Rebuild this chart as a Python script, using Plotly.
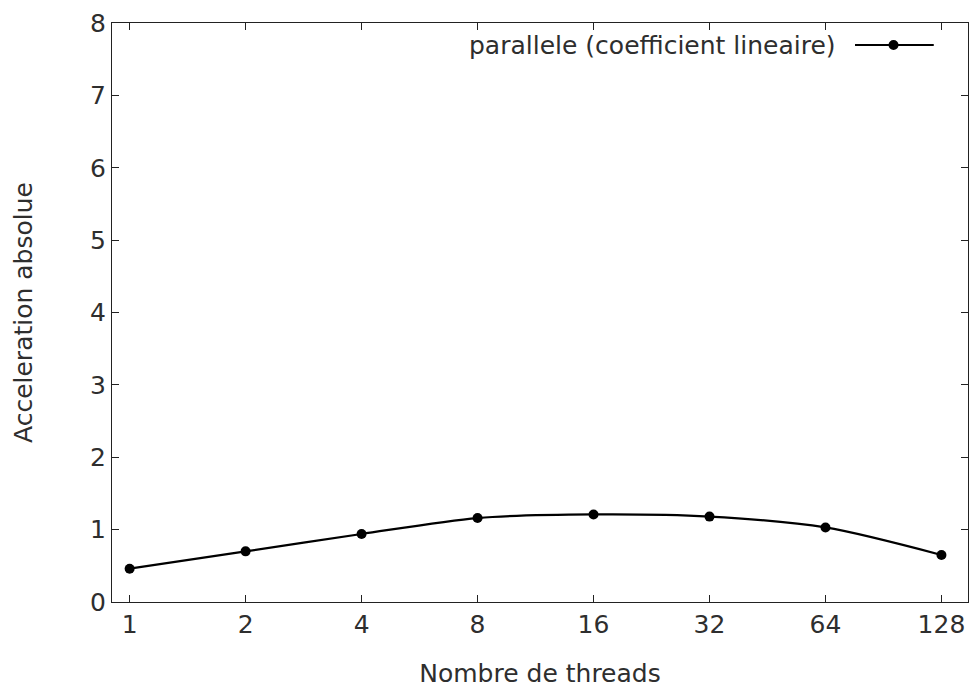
import math
import plotly.graph_objects as go

# Thread counts and measured absolute speed-up
threads = [1, 2, 4, 8, 16, 32, 64, 128]
speedup = [0.46, 0.70, 0.94, 1.16, 1.21, 1.18, 1.03, 0.65]
series_name = "parallele (coefficient lineaire)"
x_ticks = [1, 2, 4, 8, 16, 32, 64, 128]
y_ticks = [0, 1, 2, 3, 4, 5, 6, 7, 8]

FONT = "DejaVu Sans"
INK = "#2e2e2e"
FS = 25

fig = go.Figure()
fig.add_trace(go.Scatter(
    x=threads, y=speedup, mode="lines+markers", name=series_name,
    line=dict(color="black", width=2.2, shape="spline", smoothing=0.8),
    marker=dict(symbol="circle", size=10, color="black"),
    showlegend=False,
))

axis_common = dict(
    showgrid=False, zeroline=False, showline=True, mirror="allticks",
    linecolor="#222222", linewidth=1.3, ticks="inside", ticklen=7,
    tickwidth=1.2, tickcolor="#222222",
    tickfont=dict(family=FONT, size=FS, color=INK),
)

fig.update_xaxes(
    type="log", range=[math.log10(0.9), math.log10(150)],
    tickvals=x_ticks, ticktext=[str(v) for v in x_ticks],
    title=dict(text="Nombre de threads", font=dict(family=FONT, size=FS, color=INK),
               standoff=26),
    **axis_common,
)
fig.update_yaxes(
    range=[0, 8], tickvals=y_ticks,
    title=dict(text="Acceleration absolue", font=dict(family=FONT, size=FS, color=INK),
               standoff=50),
    **axis_common,
)

# Key in the upper right: label, line sample and marker
fig.add_annotation(
    xref="paper", yref="paper", x=0.848, y=0.962, xanchor="right", yanchor="middle",
    text=series_name, showarrow=False, font=dict(family=FONT, size=FS, color=INK),
)
fig.add_shape(type="line", xref="paper", yref="paper",
              x0=0.868, x1=0.960, y0=0.962, y1=0.962,
              line=dict(color="black", width=2.2))
fig.add_shape(type="circle", xref="paper", yref="paper",
              xsizemode="pixel", ysizemode="pixel", xanchor=0.913, yanchor=0.962,
              x0=-5, x1=5, y0=-5, y1=5,
              fillcolor="black", line=dict(color="black", width=0))

fig.update_layout(
    width=972, height=688,
    margin=dict(l=112, r=4, t=23, b=86),
    paper_bgcolor="white", plot_bgcolor="white",
    font=dict(family=FONT, color=INK),
)

fig.write_html("out.html")
